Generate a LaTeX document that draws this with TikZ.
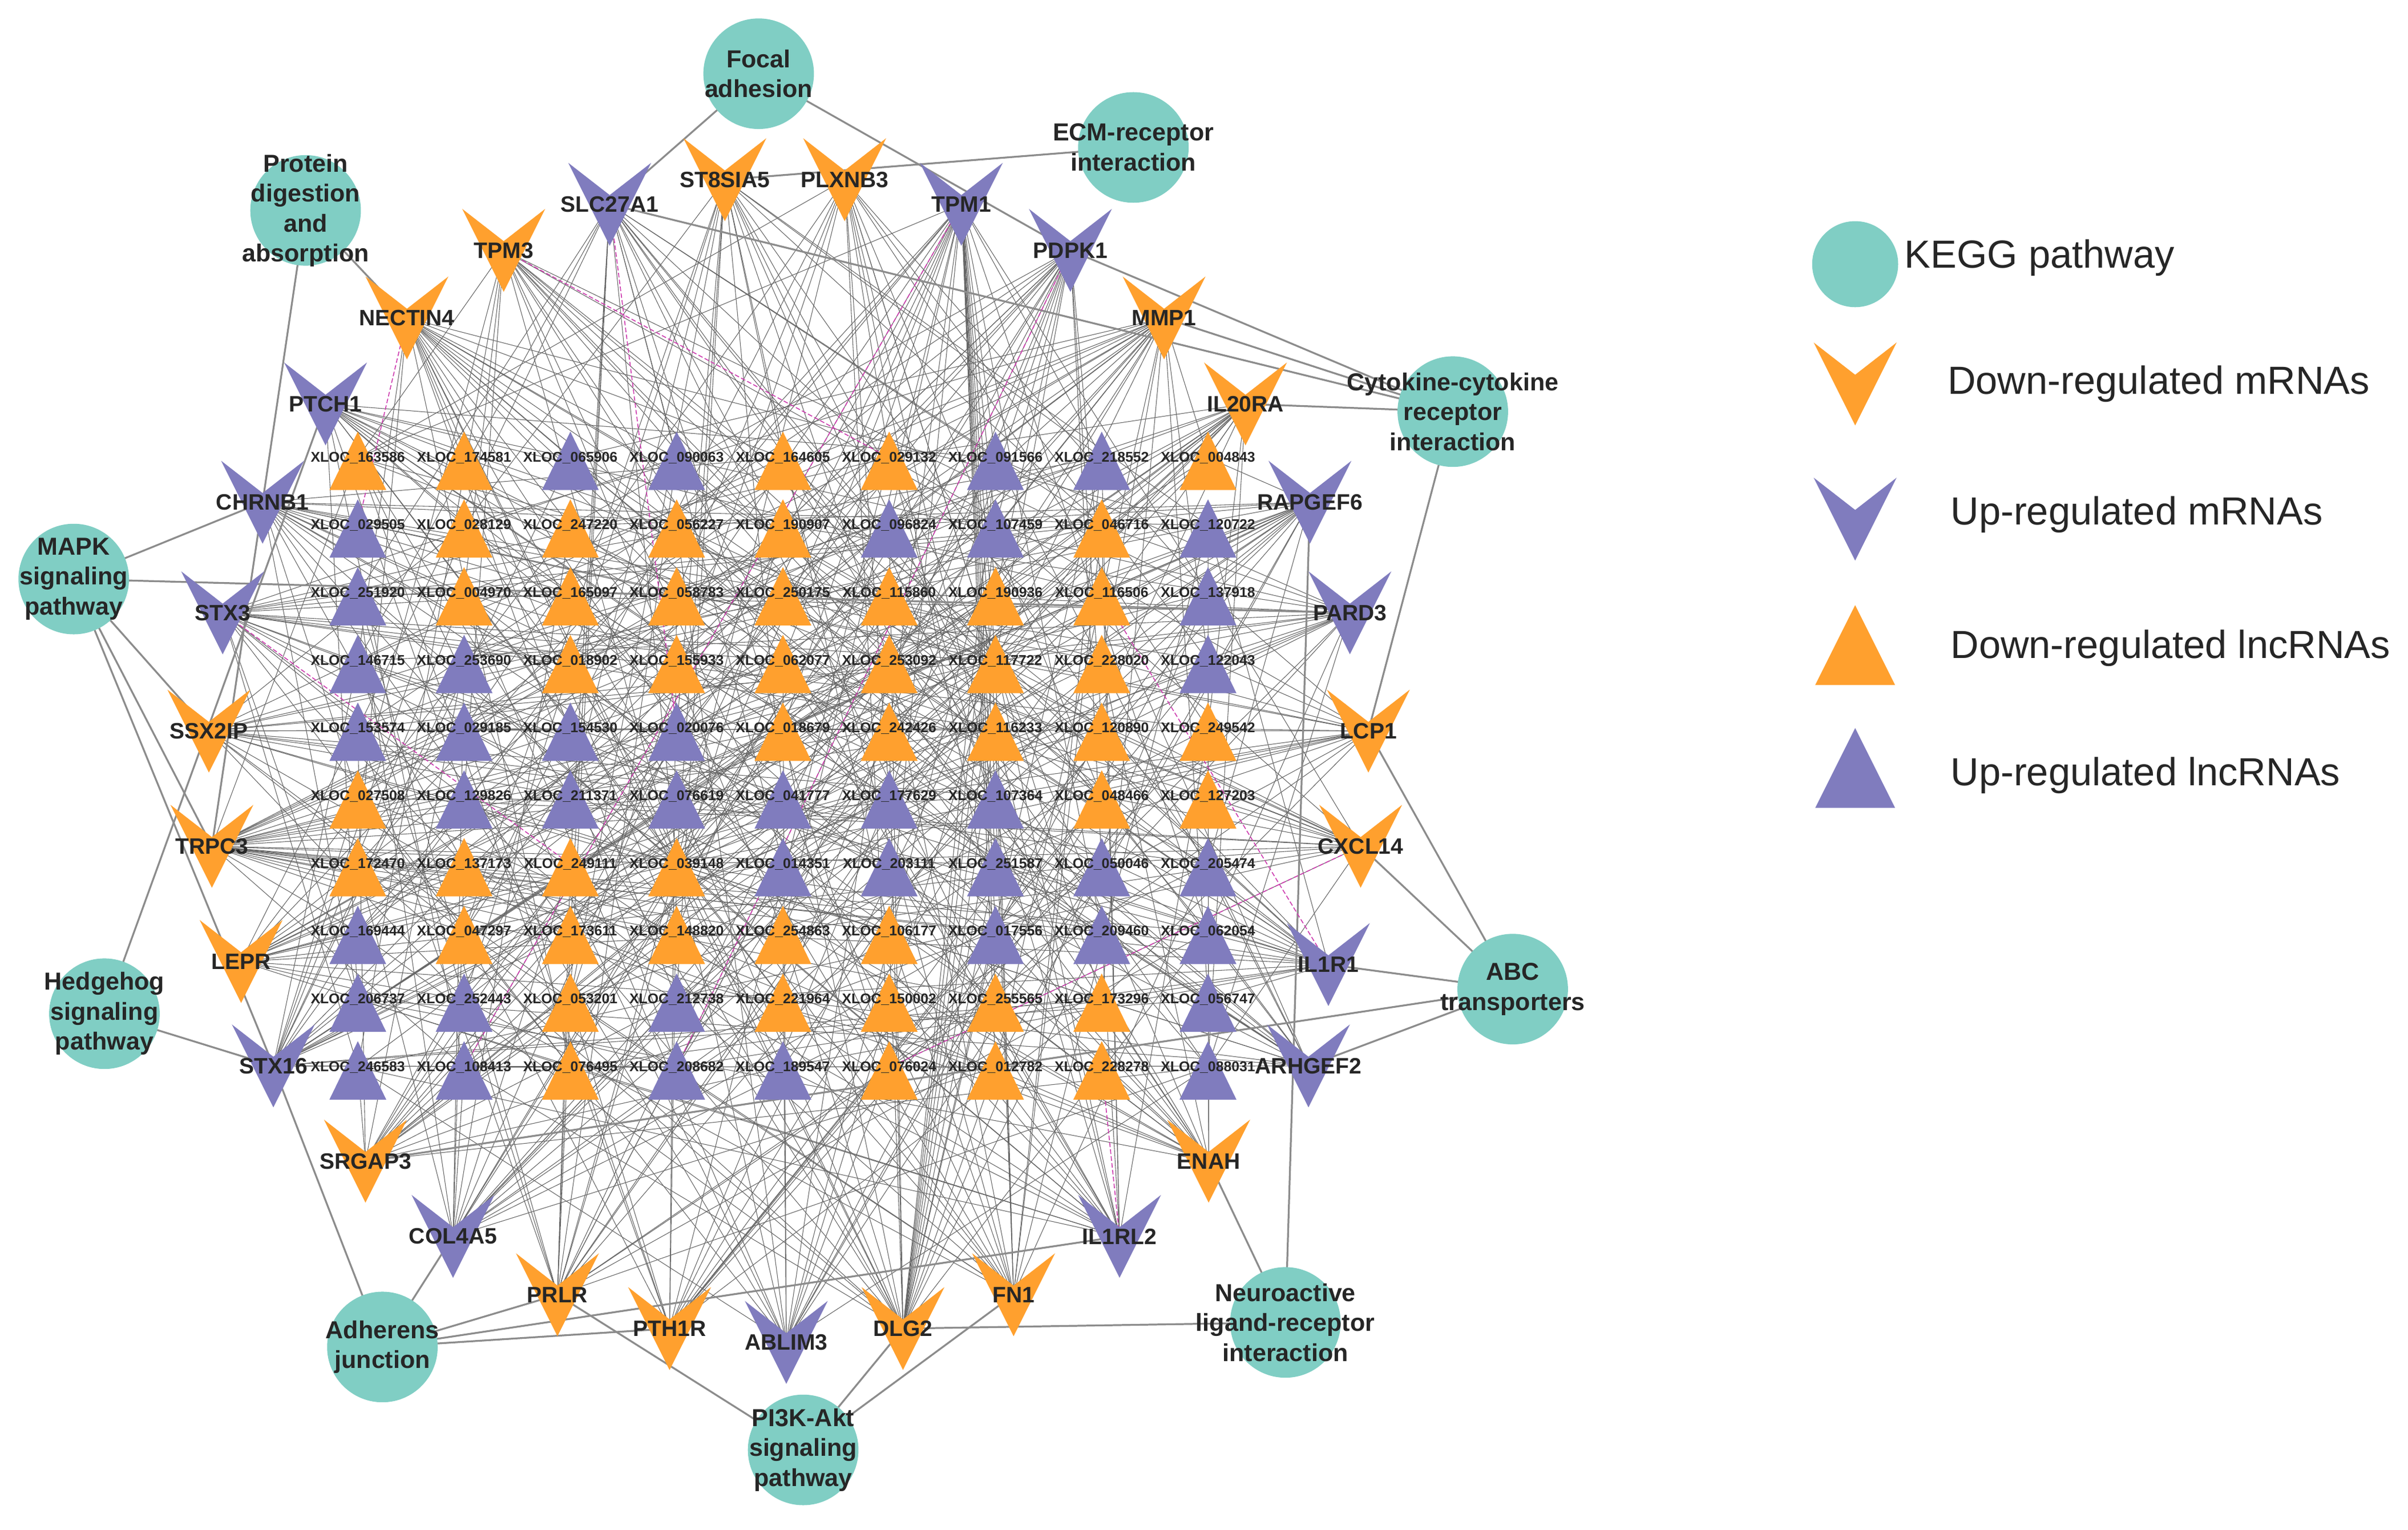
\documentclass[tikz,border=0pt]{standalone}
\usepackage{fontspec}
\setmainfont{Liberation Sans}
\usetikzlibrary{backgrounds}

\definecolor{keggteal}{RGB}{128,206,196}
\definecolor{downorange}{RGB}{255,160,46}
\definecolor{uppurple}{RGB}{128,124,190}
\definecolor{pinkedge}{RGB}{205,60,175}

\tikzset{
  kegglabel/.style={inner sep=0pt, align=center, font=\fontsize{16}{19.5}\selectfont\bfseries, text=black!85},
  gene/.style={inner sep=0pt, font=\fontsize{14.5}{16}\selectfont\bfseries, text=black!85},
  lnc/.style={inner sep=0pt, font=\fontsize{9.2}{10}\selectfont\bfseries, text=black!85},
  lncedge/.style={black!60, line width=0.4pt},
  keggedge/.style={gray!90, line width=1.2pt},
  pairedge/.style={pinkedge, line width=0.6pt, dash pattern=on 3pt off 1.5pt},
  legendtext/.style={anchor=west, inner sep=0pt, font=\fontsize{25.5}{30}\selectfont, text=black!85}
}

% V shape (mRNA) and triangle (lncRNA)
\newcommand{\vshape}[3]{\fill[#3] ({#1-27},{#2-27}) -- ({#1},{#2-6}) -- ({#1+27},{#2-27}) -- ({#1},{#2+27}) -- cycle;}
\newcommand{\trishape}[5]{\fill[#5] ({#1},{#2-#4}) -- ({#1+#3},{#2+#4}) -- ({#1-#3},{#2+#4}) -- cycle;}

\def\genelist{SLC27A1,ST8SIA5,PLXNB3,TPM1,TPM3,PDPK1,NECTIN4,MMP1,PTCH1,IL20RA,CHRNB1,RAPGEF6,STX3,PARD3,SSX2IP,LCP1,TRPC3,CXCL14,LEPR,IL1R1,STX16,ARHGEF2,SRGAP3,ENAH,COL4A5,IL1RL2,PRLR,FN1,PTH1R,DLG2,ABLIM3}

\begin{document}
\begin{tikzpicture}[x=1pt, y=-1pt]
\useasboundingbox (0,0) rectangle (1568,996);

% KEGG pathways
\foreach \k/\x/\y/\t in {
  focal/494/48/{Focal\\adhesion},
  ecm/738/96/{ECM-receptor\\interaction},
  protein/199/137/{Protein\\digestion\\and\\absorption},
  cytokine/946/268/{Cytokine-cytokine\\receptor\\interaction},
  mapk/48/377/{MAPK\\signaling\\pathway},
  abc/985/644/{ABC\\transporters},
  hedgehog/68/660/{Hedgehog\\signaling\\pathway},
  adherens/249/877/{Adherens\\junction},
  pikakt/523/944/{PI3K-Akt\\signaling\\pathway},
  neuro/837/861/{Neuroactive\\ligand-receptor\\interaction}}{
  \fill[keggteal] (\x,\y) circle (36);
  \node[kegglabel] (\k) at (\x,\y) {\t};
}

% mRNAs
\foreach \n/\x/\y/\c in {
  SLC27A1/397/133/uppurple, ST8SIA5/472/117/downorange, PLXNB3/550/117/downorange,
  TPM1/626/133/uppurple, TPM3/328/163/downorange, PDPK1/697/163/uppurple,
  NECTIN4/265/207/downorange, MMP1/758/207/downorange, PTCH1/212/263/uppurple,
  IL20RA/811/263/downorange, CHRNB1/171/327/uppurple, RAPGEF6/853/327/uppurple,
  STX3/145/399/uppurple, PARD3/879/399/uppurple, SSX2IP/136/476/downorange,
  LCP1/891/476/downorange, TRPC3/138/551/downorange, CXCL14/886/551/downorange,
  LEPR/157/626/downorange, IL1R1/865/628/uppurple, STX16/178/694/uppurple,
  ARHGEF2/852/694/uppurple, SRGAP3/238/756/downorange, ENAH/787/756/downorange,
  COL4A5/295/805/uppurple, IL1RL2/729/805/uppurple, PRLR/363/843/downorange,
  FN1/660/843/downorange, PTH1R/436/865/downorange, DLG2/588/865/downorange,
  ABLIM3/512/874/uppurple}{
  \vshape{\x}{\y}{\c}
  \node[gene] (\n) at (\x,\y) {\n};
}

% lncRNAs, 10 rows x 9 columns
\def\lncrows{
  {163586/downorange,174581/downorange,065906/uppurple,090063/uppurple,164605/downorange,029132/downorange,091566/uppurple,218552/uppurple,004843/downorange},
  {029505/uppurple,028129/downorange,247220/downorange,056227/downorange,190907/downorange,096824/uppurple,107459/uppurple,046716/downorange,120722/uppurple},
  {251920/uppurple,004970/downorange,165097/downorange,058783/downorange,250175/downorange,115860/downorange,190936/downorange,116506/downorange,137918/uppurple},
  {146715/uppurple,253690/uppurple,018902/downorange,155933/downorange,062077/downorange,253092/downorange,117722/downorange,228020/downorange,122043/uppurple},
  {153574/uppurple,029185/uppurple,154530/uppurple,020076/uppurple,018679/downorange,242426/downorange,116233/downorange,120890/downorange,249542/downorange},
  {027508/downorange,129826/uppurple,211371/uppurple,076619/uppurple,041777/uppurple,177629/uppurple,107364/uppurple,048466/downorange,127203/downorange},
  {172470/downorange,137173/downorange,249111/downorange,039148/downorange,014351/uppurple,203111/uppurple,251587/uppurple,050046/uppurple,205474/uppurple},
  {169444/uppurple,047297/downorange,173611/downorange,148820/downorange,254863/downorange,106177/downorange,017556/uppurple,209460/uppurple,062054/uppurple},
  {206737/uppurple,252443/uppurple,053201/downorange,212738/uppurple,221964/downorange,150002/downorange,255565/downorange,173296/downorange,056747/uppurple},
  {246583/uppurple,108413/uppurple,076495/downorange,208682/uppurple,189547/uppurple,076024/downorange,012782/downorange,228278/downorange,088031/uppurple}}
\foreach \row [count=\r] in \lncrows {
  \foreach \id/\col [count=\c] in \row {
    \pgfmathsetmacro\px{233+69.2*(\c-1)}
    \pgfmathsetmacro\py{300+44.1*(\r-1)}
    \trishape{\px}{\py}{18.5}{19}{\col}
  }
}
\foreach \row [count=\r] in \lncrows {
  \foreach \id/\col [count=\c] in \row {
    \pgfmathsetmacro\px{233+69.2*(\c-1)}
    \pgfmathsetmacro\py{298+44.1*(\r-1)}
    \node[lnc] (L\r c\c) at (\px,\py) {XLOC\_\id};
  }
}

% legend
\fill[keggteal] (1208,172) circle (28);
\node[legendtext] (legkegg) at (1240,168) {KEGG pathway};
\vshape{1208}{250}{downorange}
\node[legendtext] (legdownm) at (1268,250) {Down-regulated mRNAs};
\vshape{1208}{338}{uppurple}
\node[legendtext] (legupm) at (1270,335) {Up-regulated mRNAs};
\trishape{1208}{420}{26}{26}{downorange}
\node[legendtext] (legdownl) at (1270,422) {Down-regulated lncRNAs};
\trishape{1208}{500}{26}{26}{uppurple}
\node[legendtext] (legupl) at (1270,505) {Up-regulated lncRNAs};

\begin{scope}[on background layer]
  % mRNA -- lncRNA
  \foreach \g [count=\gi] in \genelist {
    \foreach \r in {1,...,10} {
      \foreach \c in {1,...,9} {
        \pgfmathtruncatemacro\h{mod(\gi*37+\r*11+\c*7+\gi*\r*\c,13)}
        \ifnum\h<3 \draw[lncedge] (\g.center) -- (L\r c\c.center); \fi
      }
    }
  }
  % mRNA -- KEGG pathway
  \foreach \k/\g in {focal/SLC27A1, focal/PDPK1, ecm/ST8SIA5, protein/TRPC3, protein/NECTIN4,
      cytokine/SLC27A1, cytokine/PDPK1, cytokine/MMP1, cytokine/IL20RA, cytokine/LCP1,
      mapk/CHRNB1, mapk/PARD3, mapk/SSX2IP, mapk/TRPC3, mapk/STX16,
      hedgehog/PTCH1, hedgehog/STX16, adherens/STX16, adherens/COL4A5, adherens/PRLR,
      adherens/PTH1R, adherens/IL1RL2, pikakt/PRLR, pikakt/DLG2, pikakt/FN1,
      abc/IL1R1, abc/ARHGEF2, abc/CXCL14, abc/LCP1, abc/SRGAP3,
      neuro/DLG2, neuro/RAPGEF6, neuro/ENAH}
    \draw[keggedge] (\k.center) -- (\g.center);
  % mRNA -- lncRNA, pink
  \foreach \g/\l in {NECTIN4/L2c1, TPM3/L1c6, SLC27A1/L5c4, TPM1/L10c2, PDPK1/L10c4,
      STX3/L7c3, CXCL14/L10c6, IL1RL2/L10c8, IL1R1/L3c8}
    \draw[pairedge] (\g.center) -- (\l.center);
\end{scope}
\end{tikzpicture}
\end{document}
